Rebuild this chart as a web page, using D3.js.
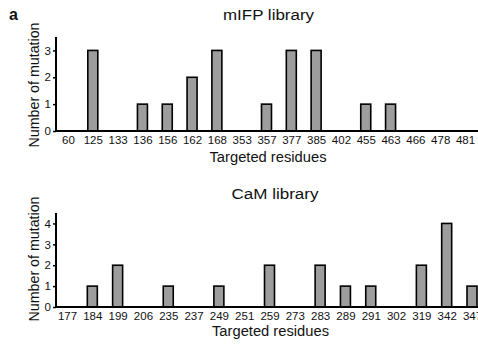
<!DOCTYPE html>
<html>
<head>
<meta charset="utf-8">
<script src="https://cdn.jsdelivr.net/npm/d3@7"></script>
<style>
  body { margin: 0; background: #fff; }
  text { font-family: "Liberation Sans", Arial, sans-serif; fill: #111; }
</style>
</head>
<body>
<div id="chart"></div>
<script>
// dimensões da janela
const width = 478;
const height = 344;

// dados
const mifpResidues = ["60", "125", "133", "136", "156", "162", "168", "353", "357", "377", "385", "402", "455", "463", "466", "478", "481"];
const mifpCounts = [0, 3, 0, 1, 1, 2, 3, 0, 1, 3, 3, 0, 1, 1, 0, 0, 0];
const mifpTicks = [0, 1, 2, 3];

const camResidues = ["177", "184", "199", "206", "235", "237", "249", "251", "259", "273", "283", "289", "291", "302", "319", "342", "347"];
const camCounts = [0, 1, 2, 0, 1, 0, 1, 0, 2, 0, 2, 1, 1, 0, 2, 4, 1];
const camTicks = [0, 1, 2, 3, 4];

const svg = d3.select("#chart")
  .append("svg")
  .attr("width", width)
  .attr("height", height);

// letra do painel
svg.append("text")
  .attr("x", 9).attr("y", 20)
  .attr("font-size", 16).attr("font-weight", "bold")
  .text("a");

// texto um pouco mais largo, como no original
function wideText(g, txt, len, size) {
  return g.append("text")
    .attr("font-size", size)
    .attr("textLength", len)
    .attr("lengthAdjust", "spacingAndGlyphs")
    .text(txt);
}

// desenha um painel de barras
function drawPanel(cfg) {
  const g = svg.append("g");

  const x = d3.scalePoint()
    .domain(cfg.residues)
    .range([cfg.x0, cfg.x1]);

  const y = d3.scaleLinear()
    .domain([0, cfg.yMax])
    .range([cfg.base, cfg.top]);

  const data = cfg.residues.map((r, i) => ({ r: r, v: cfg.counts[i] }));

  // barras
  g.selectAll("rect")
    .data(data.filter(d => d.v > 0))
    .enter()
    .append("rect")
    .attr("x", d => x(d.r) - 5)
    .attr("width", 10)
    .attr("y", d => y(d.v))
    .attr("height", d => y(0) - y(d.v))
    .attr("fill", "#9d9d9d")
    .attr("stroke", "#000")
    .attr("stroke-width", 1.6);

  // eixo y
  const yAxis = g.append("g")
    .attr("transform", `translate(${cfg.axisX},0)`)
    .call(d3.axisLeft(y).tickValues(cfg.ticks).tickSize(3).tickPadding(2).tickFormat(d3.format("d")));
  yAxis.select(".domain")
    .attr("d", `M0,${cfg.top}V${cfg.base}`)
    .attr("stroke-width", 2);
  yAxis.selectAll(".tick line").attr("stroke-width", 1.5);
  yAxis.selectAll(".tick text").attr("font-size", 11.5).attr("font-family", "Liberation Sans, Arial, sans-serif");

  // eixo x (sem marcas)
  const xAxis = g.append("g")
    .attr("transform", `translate(0,${cfg.base})`)
    .call(d3.axisBottom(x).tickSize(0).tickPadding(5));
  xAxis.select(".domain")
    .attr("d", `M${cfg.axisX - 1},0H${width}`)
    .attr("stroke-width", 2);
  xAxis.selectAll(".tick text").attr("font-size", 11.5).attr("font-family", "Liberation Sans, Arial, sans-serif");

  // títulos
  wideText(g, cfg.title, cfg.titleLen, 14)
    .attr("x", cfg.titleX - cfg.titleLen / 2).attr("y", cfg.titleY);

  wideText(g, "Targeted residues", 117, 14)
    .attr("x", cfg.xLabelX - 117 / 2).attr("y", cfg.xLabelY);

  wideText(g, "Number of mutation", 125, 14)
    .attr("transform", `translate(${cfg.yLabelX},${cfg.yLabelY}) rotate(-90)`)
    .attr("x", -125 / 2).attr("y", 0);
}

drawPanel({
  residues: mifpResidues, counts: mifpCounts, ticks: mifpTicks,
  yMax: 3.5, x0: 68, x1: 465, top: 37, base: 131, axisX: 56,
  title: "mIFP library", titleLen: 91, titleX: 268.5, titleY: 20,
  xLabelX: 268, xLabelY: 161.5,
  yLabelX: 39, yLabelY: 85
});

drawPanel({
  residues: camResidues, counts: camCounts, ticks: camTicks,
  yMax: 4.5, x0: 67, x1: 472, top: 213, base: 307, axisX: 56,
  title: "CaM library", titleLen: 87, titleX: 275, titleY: 198.5,
  xLabelX: 270.5, xLabelY: 336,
  yLabelX: 39, yLabelY: 259
});
</script>
</body>
</html>
